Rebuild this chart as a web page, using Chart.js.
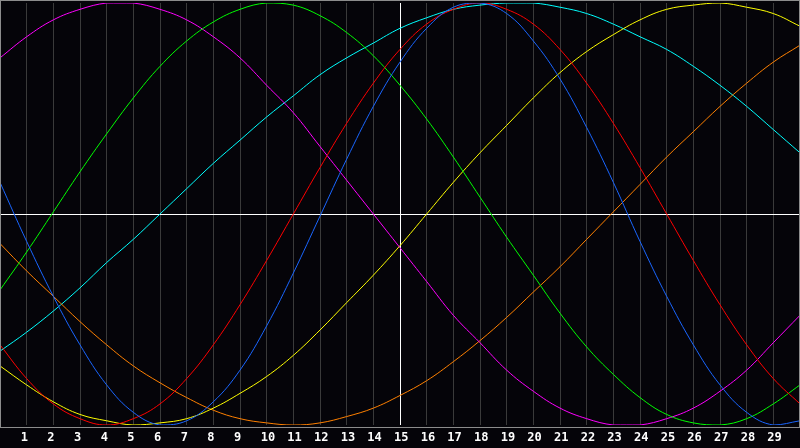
<!DOCTYPE html>
<html lang="en">
<head>
    <meta charset="UTF-8">
    <title>Biorhythm</title>
    <script src="https://cdn.jsdelivr.net/npm/chart.js@4.4.1/dist/chart.umd.min.js"></script>
    <style>
        html, body {
            margin: 0;
            padding: 0;
            background: #050409;
            overflow: hidden;
        }
        #bio {
            display: block;
        }
    </style>
</head>
<body>
    <canvas id="bio" width="800" height="448"></canvas>

    <script>
        // day index 0..30, labelled 1..29 under the grid lines
        const days = [0, 1, 2, 3, 4, 5, 6, 7, 8, 9, 10, 11, 12, 13, 14, 15,
                      16, 17, 18, 19, 20, 21, 22, 23, 24, 25, 26, 27, 28, 29, 30];
        const tickLabels = ['', '1', '2', '3', '4', '5', '6', '7', '8', '9', '10', '11', '12', '13', '14', '15',
                            '16', '17', '18', '19', '20', '21', '22', '23', '24', '25', '26', '27', '28', '29', ''];

        // values, -1 .. 1
        const physical = [0.15, -0.13, -0.39, -0.62, -0.81, -0.94, -1.00, -0.98, -0.89, -0.74, -0.53, -0.28, -0.01, 0.26, 0.51, 0.72,
                          0.88, 0.98, 1.00, 0.95, 0.82, 0.64, 0.41, 0.15, -0.13, -0.39, -0.62, -0.81, -0.94, -1.00, -0.98];
        const emotional = [-0.62, -0.78, -0.90, -0.97, -1.00, -0.97, -0.90, -0.78, -0.62, -0.43, -0.22, 0.00, 0.22, 0.43, 0.62, 0.78,
                           0.90, 0.97, 1.00, 0.97, 0.90, 0.78, 0.62, 0.43, 0.22, 0.00, -0.22, -0.43, -0.62, -0.78, -0.90];
        const intellectual = [-0.36, -0.18, 0.01, 0.20, 0.38, 0.55, 0.70, 0.82, 0.91, 0.97, 1.00, 0.99, 0.94, 0.86, 0.75, 0.61,
                              0.45, 0.27, 0.08, -0.11, -0.29, -0.47, -0.63, -0.76, -0.87, -0.95, -0.99, -1.00, -0.97, -0.90, -0.81];
        const intuitive = [0.74, 0.84, 0.92, 0.97, 1.00, 1.00, 0.97, 0.92, 0.84, 0.74, 0.61, 0.48, 0.32, 0.16, 0.00, -0.16,
                           -0.32, -0.48, -0.61, -0.74, -0.84, -0.92, -0.97, -1.00, -1.00, -0.97, -0.92, -0.84, -0.74, -0.61, -0.48];
        const aesthetic = [-0.72, -0.81, -0.89, -0.95, -0.98, -1.00, -0.99, -0.97, -0.92, -0.85, -0.77, -0.67, -0.55, -0.42, -0.29, -0.15,
                           0.00, 0.15, 0.29, 0.42, 0.55, 0.67, 0.77, 0.85, 0.92, 0.97, 0.99, 1.00, 0.98, 0.95, 0.89];
        const awareness = [-0.14, -0.27, -0.39, -0.51, -0.62, -0.72, -0.80, -0.87, -0.93, -0.97, -0.99, -1.00, -0.99, -0.96, -0.92, -0.86,
                           -0.79, -0.70, -0.60, -0.49, -0.37, -0.25, -0.12, 0.01, 0.14, 0.27, 0.39, 0.51, 0.62, 0.72, 0.80];
        const spiritual = [-0.65, -0.56, -0.46, -0.35, -0.23, -0.12, 0.00, 0.12, 0.24, 0.35, 0.46, 0.56, 0.66, 0.74, 0.81, 0.88,
                           0.93, 0.97, 0.99, 1.00, 1.00, 0.98, 0.95, 0.90, 0.84, 0.78, 0.70, 0.61, 0.51, 0.40, 0.29];

        function line(label, data, color) {
            return {
                label: label,
                data: data,
                borderColor: color,
                borderWidth: 1,
                pointRadius: 0,
                pointHoverRadius: 0,
                tension: 0.4,
                fill: false
            };
        }

        // thin grey frame round the plot
        const frame = {
            id: 'frame',
            afterDraw(chart) {
                const a = chart.chartArea;
                const c = chart.ctx;
                c.save();
                c.strokeStyle = '#8c8c8c';
                c.lineWidth = 1;
                c.strokeRect(0.5, 0.5, a.right - 1, a.bottom + 2);
                c.restore();
            }
        };

        new Chart(document.getElementById('bio'), {
            type: 'line',
            data: {
                labels: days,
                datasets: [
                    line('Physical', physical, '#1a66ff'),
                    line('Emotional', emotional, '#ff0000'),
                    line('Intellectual', intellectual, '#00ff00'),
                    line('Intuitive', intuitive, '#ff00ff'),
                    line('Aesthetic', aesthetic, '#ffff00'),
                    line('Awareness', awareness, '#ff8000'),
                    line('Spiritual', spiritual, '#00ffff')
                ]
            },
            plugins: [frame],
            options: {
                responsive: false,
                animation: false,
                devicePixelRatio: 1,
                layout: { padding: { top: 3, left: 0, right: 0, bottom: 0 } },
                plugins: {
                    legend: { display: false },
                    tooltip: { enabled: false }
                },
                scales: {
                    x: {
                        offset: false,
                        border: { display: false },
                        afterFit: s => { s.paddingLeft = 0; s.paddingRight = 0; s.height = 23; },
                        grid: {
                            offset: false,
                            drawTicks: false,
                            color: ctx => ctx.index === 15 ? '#ffffff' : (ctx.index === 0 || ctx.index === 30 ? 'rgba(0,0,0,0)' : '#3a3a3a')
                        },
                        ticks: {
                            autoSkip: false,
                            maxRotation: 0,
                            padding: 6,
                            align: 'start',
                            labelOffset: -6,
                            color: '#ffffff',
                            font: { family: 'DejaVu Sans Mono', weight: 'bold', size: 12 },
                            callback: (v, i) => tickLabels[i]
                        }
                    },
                    y: {
                        min: -1,
                        max: 1,
                        border: { display: false },
                        afterFit: s => { s.paddingTop = 0; s.paddingBottom = 0; s.width = 0; },
                        grid: {
                            drawTicks: false,
                            color: ctx => ctx.tick.value === 0 ? '#ffffff' : 'rgba(0,0,0,0)'
                        },
                        ticks: { display: false, stepSize: 1 }
                    }
                }
            }
        });
    </script>
</body>
</html>
